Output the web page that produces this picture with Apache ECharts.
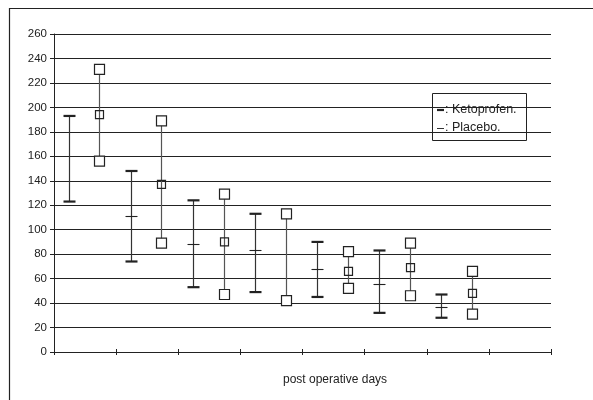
<!doctype html>
<html>
	<head>
		<meta charset="utf-8">
		<title>Post operative days</title>
		<style>
			html, body { margin: 0; padding: 0; background: #fff; }
		</style>
	</head>
	<body>
		<div id="container" style="height: 400px; width: 593px;"></div>

		<script src="https://cdn.jsdelivr.net/npm/echarts@6/dist/echarts.min.js"></script>

		<script>
			// days on the x axis (no labels shown in the original)
			const days = ['1', '2', '3', '4', '5', '6', '7', '8'];
			const yTicks = { min: 0, max: 260, step: 20 };

			// Ketoprofen: high / mean / low
			const ketoHigh = [193, 148, 124, 113, 90, 83, 47];
			const ketoMean = [null, 111, 88, 83, 68, 56, 37];
			const ketoLow  = [123, 74, 53, 49, 45, 32, 28];

			// Placebo: high / mean / low
			const placeboHigh = [231, 189, 129, 113, 82, 89, 66];
			const placeboMean = [194, 137, 90, null, 66, 69, 48];
			const placeboLow  = [156, 89, 47, 42, 52, 46, 31];

			function rows(low, mean, high) {
				return low.map((v, i) => [i, v, mean[i] == null ? '-' : mean[i], high[i]]);
			}

			const font = '"Liberation Sans", Arial, sans-serif';

			function ketoItem(params, api) {
				const i = api.value(0);
				const w = api.size([1, 0])[0];
				const x = Math.round(api.coord([i, 0])[0] - 0.265 * w) + 0.5;
				const yLow = api.coord([i, api.value(1)])[1];
				const yHigh = api.coord([i, api.value(3)])[1];
				const mean = api.value(2);
				const kids = [
					{ type: 'line', shape: { x1: x, y1: yHigh, x2: x, y2: yLow }, style: { stroke: '#333', lineWidth: 1.2 } },
					{ type: 'line', shape: { x1: x - 6, y1: yHigh, x2: x + 6, y2: yHigh }, style: { stroke: '#222', lineWidth: 2.2 } },
					{ type: 'line', shape: { x1: x - 6, y1: yLow, x2: x + 6, y2: yLow }, style: { stroke: '#222', lineWidth: 2.2 } }
				];
				if (!isNaN(mean)) {
					const yMean = Math.round(api.coord([i, mean])[1]) + 0.5;
					kids.push({ type: 'line', shape: { x1: x - 6, y1: yMean, x2: x + 6, y2: yMean }, style: { stroke: '#222', lineWidth: 1.1 } });
				}
				return { type: 'group', children: kids };
			}

			function placeboItem(params, api) {
				const i = api.value(0);
				const w = api.size([1, 0])[0];
				const x = Math.round(api.coord([i, 0])[0] + 0.23 * w) + 0.5;
				const yLow = api.coord([i, api.value(1)])[1];
				const yHigh = api.coord([i, api.value(3)])[1];
				const mean = api.value(2);
				const sq = (y, s, fill) => ({
					type: 'rect',
					shape: { x: x - s / 2, y: y - s / 2, width: s, height: s },
					style: { fill: fill, stroke: '#222', lineWidth: 1.2 }
				});
				const kids = [
					{ type: 'line', shape: { x1: x, y1: yHigh, x2: x, y2: yLow }, style: { stroke: '#555', lineWidth: 1.2 } },
					sq(yHigh, 10, '#fff'),
					sq(yLow, 10, '#fff')
				];
				if (!isNaN(mean)) {
					kids.push(sq(api.coord([i, mean])[1], 8, 'transparent'));
				}
				return { type: 'group', children: kids };
			}

			const chart = echarts.init(document.getElementById('container'));

			chart.setOption({
				animation: false,
				backgroundColor: '#fff',
				grid: { left: 54, right: 42, top: 34, bottom: 48 },
				xAxis: [
					{
						type: 'category',
						data: days,
						position: 'bottom',
						boundaryGap: true,
						axisLine: { lineStyle: { color: '#222', width: 1 } },
						axisTick: { show: true, length: 3, lineStyle: { color: '#222' } },
						axisLabel: { show: false },
						splitLine: { show: false }
					},
					{
						type: 'category',
						data: days,
						position: 'bottom',
						boundaryGap: true,
						axisLine: { show: false },
						axisTick: { show: true, inside: true, length: 3, lineStyle: { color: '#222' } },
						axisLabel: { show: false },
						splitLine: { show: false }
					}
				],
				yAxis: {
					type: 'value',
					min: yTicks.min,
					max: yTicks.max,
					interval: yTicks.step,
					axisLine: { show: true, lineStyle: { color: '#222', width: 1 } },
					axisTick: { show: true, length: 4, lineStyle: { color: '#222' } },
					axisLabel: { color: '#222', fontSize: 11.5, fontFamily: font, margin: 7 },
					splitLine: { show: true, lineStyle: { color: '#222', width: 1 } }
				},
				series: [
					{
						name: 'Ketoprofen',
						type: 'custom',
						renderItem: ketoItem,
						encode: { x: 0, y: [1, 2, 3] },
						data: rows(ketoLow, ketoMean, ketoHigh)
					},
					{
						name: 'Placebo',
						type: 'custom',
						renderItem: placeboItem,
						encode: { x: 0, y: [1, 2, 3] },
						data: rows(placeboLow, placeboMean, placeboHigh)
					}
				],
				graphic: [
					{
						type: 'rect',
						shape: { x: 9.5, y: 8.5, width: 600, height: 400 },
						style: { fill: 'none', stroke: '#222', lineWidth: 1.2 },
						silent: true
					},
					{
						type: 'text',
						left: 283,
						top: 374,
						style: { text: 'post operative days', fontSize: 12, fontFamily: font, fill: '#222' }
					},
					{
						type: 'group',
						left: 432,
						top: 93,
						z: 100,
						children: [
							{ type: 'rect', shape: { x: 0.5, y: 0.5, width: 94, height: 47 }, style: { fill: '#fff', stroke: '#222', lineWidth: 1 } },
							{ type: 'line', shape: { x1: 5, y1: 17, x2: 12, y2: 17 }, style: { stroke: '#222', lineWidth: 2.2 } },
							{ type: 'text', x: 13, y: 10, style: { text: ': Ketoprofen.', fontSize: 12.5, fontFamily: font, fill: '#222' } },
							{ type: 'line', shape: { x1: 5, y1: 35.5, x2: 12, y2: 35.5 }, style: { stroke: '#333', lineWidth: 1 } },
							{ type: 'text', x: 13, y: 28, style: { text: ': Placebo.', fontSize: 12.5, fontFamily: font, fill: '#222' } }
						]
					}
				]
			});
		</script>
	</body>
</html>
